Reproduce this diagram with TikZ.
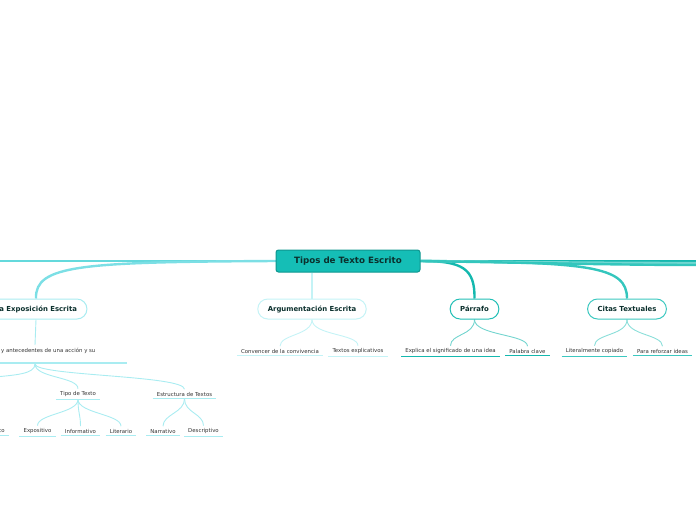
\documentclass[tikz,border=0pt]{standalone}
\usepackage{fontspec}
\setmainfont{DejaVu Sans}
\usetikzlibrary{positioning,backgrounds}

\definecolor{rootfill}{HTML}{15BEB6}
\definecolor{rootdraw}{HTML}{0E968F}
\definecolor{topictext}{HTML}{0B302D}
\definecolor{leaftext}{HTML}{333333}
\definecolor{expoline}{HTML}{7CDFE5}
\definecolor{expoedge}{HTML}{A9ECF1}
\definecolor{argline}{HTML}{C4F3F6}
\definecolor{argedge}{HTML}{C4F3F6}
\definecolor{parline}{HTML}{14B8AE}
\definecolor{paredge}{HTML}{22BFB6}
\definecolor{citline}{HTML}{34C6BD}
\definecolor{citedge}{HTML}{3CC8C0}
\definecolor{leftline}{HTML}{64D9DC}

\tikzset{
  topic/.style={draw=rootdraw, fill=rootfill, rounded corners=2.5pt, line width=1pt,
    minimum width=144pt, minimum height=22pt, text=topictext,
    font=\fontsize{8.7}{10}\bfseries},
  branch/.style={draw=#1, fill=white, rounded corners=10pt, line width=1pt,
    minimum height=20pt, inner xsep=10pt, text=topictext,
    font=\fontsize{6.9}{8}\bfseries},
  leaf/.style={text=leaftext, inner xsep=4pt, inner ysep=2.5pt,
    font=\fontsize{5.4}{6.5}\selectfont},
  uline/.style={draw=#1, line width=1.3pt},
  link/.style={draw=#1, line width=2.4pt},
  twig/.style={draw=#1, line width=0.9pt}
}

\begin{document}
\begin{tikzpicture}[x=1pt,y=-1pt]
\useasboundingbox (0,0) rectangle (696,520);

% main topic and branches
\node[topic] (root) at (348,261) {Tipos de Texto Escrito};

\node[branch=expoedge] (expo) at (36,309) {La Exposición Escrita};
\node[branch=argedge] (arg) at (312,309) {Argumentación Escrita};
\node[branch=paredge] (par) at (474.5,309) {Párrafo};
\node[branch=citedge] (cit) at (627,309) {Citas Textuales};

% leaves
\node[leaf] (conv) at (280,351) {Convencer de la convivencia};
\node[leaf] (expl) at (358,351) {Textos explicativos};
\node[leaf] (signif) at (450.5,351) {Explica el significado de una idea};
\node[leaf] (clave) at (527.5,351) {Palabra clave};
\node[leaf] (literal) at (594.5,351) {Literalmente copiado};
\node[leaf] (reforzar) at (662.5,351) {Para reforzar ideas};

\node[leaf, anchor=west] (causas) at (-3,351) {y antecedentes de una acción y su};
\coordinate (causastop) at (35,345);
\coordinate (causasbot) at (35,364);
\coordinate (causasbl) at (-60,363);
\coordinate (causasbr) at (127,363);

\node[leaf] (tipo) at (78,394) {Tipo de Texto};
\node[leaf] (estructura) at (184.5,394) {Estructura de Textos};

\node[leaf, anchor=east] (co) at (9,431) {co};
\node[leaf] (expositivo) at (37.5,431) {Expositivo};
\node[leaf] (informativo) at (80.5,431) {Informativo};
\node[leaf] (literario) at (121,431) {Literario};
\node[leaf] (narrativo) at (163,431) {Narrativo};
\node[leaf] (descriptivo) at (203.5,431) {Descriptivo};

% ends running off the page
\coordinate (leftend) at (-5,261);
\coordinate (leftlow) at (-5,377);
\coordinate (rightA) at (701,261);
\coordinate (rightB) at (701,263);
\coordinate (rightC) at (701,265);

\foreach \n/\c in {conv/argline, expl/argline, signif/parline, clave/parline,
    literal/citedge, reforzar/citedge, tipo/expoedge, estructura/expoedge,
    co/expoedge, expositivo/expoedge, informativo/expoedge, literario/expoedge,
    narrativo/expoedge, descriptivo/expoedge}
  \draw[uline=\c] (\n.south west) -- (\n.south east);
\draw[uline=expoedge] (causasbl) -- (causasbr);

\begin{scope}[on background layer]
\draw[link=leftline] (root.west) -- (leftend);
\draw[link=expoline] (root.west) .. controls (80,262) and (35,265) .. (expo.north);
\draw[link=argline] (arg.north |- root.south) -- (arg.north);
\draw[link=parline] (root.east) .. controls (462,261) and (475,268) .. (par.north);
\draw[link=citline] (root.east) .. controls (590,262) and (627,266) .. (cit.north);
\draw[link=parline] (root.east) -- (rightA);
\draw[link=citline!70!white] (root.east) .. controls (520,262) and (600,263) .. (rightB);
\draw[link=citline] (root.east) .. controls (540,263) and (620,265) .. (rightC);

\draw[twig=argline] (arg.south) .. controls +(0,16) and +(0,-12) .. (conv.north);
\draw[twig=argline] (arg.south) .. controls +(0,16) and +(0,-12) .. (expl.north);
\draw[twig=parline!60!white] (par.south) .. controls +(0,16) and +(0,-12) .. (signif.north);
\draw[twig=parline!60!white] (par.south) .. controls +(0,16) and +(0,-12) .. (clave.north);
\draw[twig=citedge!60!white] (cit.south) .. controls +(0,16) and +(0,-12) .. (literal.north);
\draw[twig=citedge!60!white] (cit.south) .. controls +(0,16) and +(0,-12) .. (reforzar.north);

\draw[twig=expoedge] (expo.south) -- (causastop);
\draw[twig=expoedge] (causasbot) .. controls +(0,10) and +(20,-2) .. (leftlow);
\draw[twig=expoedge] (causasbot) .. controls +(0,14) and +(0,-12) .. (tipo.north);
\draw[twig=expoedge] (causasbot) .. controls +(0,12) and +(0,-14) .. (estructura.north);
\draw[twig=expoedge] (tipo.south) .. controls +(0,14) and +(0,-12) .. (expositivo.north);
\draw[twig=expoedge] (tipo.south) .. controls +(0,14) and +(0,-12) .. (informativo.north);
\draw[twig=expoedge] (tipo.south) .. controls +(0,14) and +(0,-12) .. (literario.north);
\draw[twig=expoedge] (estructura.south) .. controls +(0,14) and +(0,-12) .. (narrativo.north);
\draw[twig=expoedge] (estructura.south) .. controls +(0,14) and +(0,-12) .. (descriptivo.north);
\end{scope}

\end{tikzpicture}
\end{document}
